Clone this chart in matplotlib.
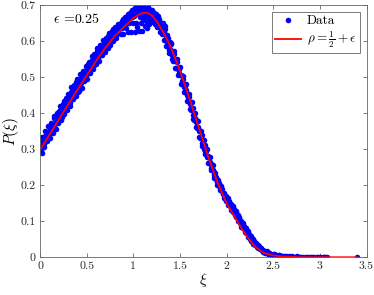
import matplotlib
matplotlib.use("Agg")
import matplotlib.pyplot as plt
import numpy as np

# Measured data, split by region of the curve
xi_rise = [0.004, 0.011, 0.017, 0.022, 0.030, 0.038, 0.045, 0.051, 0.060, 0.068,
           0.075, 0.083, 0.091, 0.099, 0.106, 0.114, 0.121, 0.129, 0.137, 0.146,
           0.153, 0.161, 0.169, 0.176, 0.184, 0.192, 0.201, 0.208, 0.216, 0.223,
           0.231, 0.239, 0.247, 0.255, 0.262, 0.270, 0.278, 0.286, 0.294, 0.302,
           0.310, 0.317, 0.325, 0.333, 0.341, 0.349, 0.356, 0.364, 0.372, 0.380,
           0.388, 0.396, 0.404, 0.411, 0.419, 0.427, 0.435, 0.443, 0.451, 0.459,
           0.467, 0.475, 0.483, 0.491, 0.499, 0.507, 0.515, 0.523, 0.531, 0.539,
           0.547, 0.555, 0.563, 0.571, 0.579, 0.587, 0.595, 0.603, 0.611, 0.619,
           0.627, 0.635, 0.643, 0.651, 0.659, 0.667, 0.675, 0.683, 0.691, 0.699,
           0.707, 0.715, 0.723, 0.731, 0.739, 0.747, 0.755, 0.763, 0.771, 0.779,
           0.787, 0.795, 0.803, 0.811, 0.819, 0.827, 0.835, 0.843,
           0.007, 0.026, 0.042, 0.057, 0.073, 0.088, 0.104, 0.119, 0.135, 0.150,
           0.166, 0.181, 0.197, 0.212, 0.228, 0.243, 0.259, 0.274, 0.290, 0.305,
           0.321, 0.336, 0.352, 0.367, 0.383, 0.398, 0.414, 0.429, 0.445, 0.460,
           0.476, 0.491, 0.507, 0.522, 0.538, 0.553, 0.569, 0.584, 0.600, 0.615,
           0.631, 0.646, 0.662, 0.677, 0.693, 0.708, 0.724, 0.739, 0.755, 0.770,
           0.786, 0.801, 0.817, 0.832]
p_rise = [0.310, 0.299, 0.291, 0.323, 0.314, 0.326, 0.315, 0.338, 0.329, 0.338,
          0.327, 0.348, 0.343, 0.361, 0.345, 0.358, 0.354, 0.369, 0.352, 0.369,
          0.386, 0.370, 0.382, 0.379, 0.393, 0.377, 0.393, 0.405, 0.394, 0.406,
          0.390, 0.407, 0.418, 0.407, 0.435, 0.419, 0.428, 0.419, 0.440, 0.431,
          0.439, 0.428, 0.450, 0.460, 0.445, 0.457, 0.455, 0.468, 0.453, 0.468,
          0.486, 0.469, 0.480, 0.458, 0.481, 0.495, 0.483, 0.494, 0.507, 0.496,
          0.507, 0.494, 0.508, 0.521, 0.509, 0.520, 0.537, 0.521, 0.533, 0.522,
          0.534, 0.547, 0.535, 0.546, 0.533, 0.557, 0.551, 0.557, 0.572, 0.555,
          0.569, 0.564, 0.580, 0.561, 0.577, 0.586, 0.577, 0.597, 0.587, 0.595,
          0.584, 0.604, 0.598, 0.614, 0.599, 0.610, 0.595, 0.618, 0.613, 0.618,
          0.634, 0.614, 0.630, 0.624, 0.638, 0.619, 0.636, 0.646,
          0.293, 0.333, 0.306, 0.350, 0.323, 0.365, 0.330, 0.374, 0.346, 0.392,
          0.357, 0.401, 0.374, 0.419, 0.381, 0.425, 0.399, 0.443, 0.410, 0.454,
          0.421, 0.472, 0.440, 0.478, 0.448, 0.494, 0.462, 0.509, 0.471, 0.518,
          0.490, 0.532, 0.496, 0.542, 0.511, 0.558, 0.522, 0.565, 0.537, 0.580,
          0.545, 0.589, 0.562, 0.604, 0.570, 0.610, 0.582, 0.622, 0.590, 0.630,
          0.602, 0.641, 0.608, 0.648]

xi_peak = [0.851, 0.857, 0.863, 0.869, 0.875, 0.881, 0.887, 0.893, 0.899, 0.905,
           0.911, 0.917, 0.923, 0.929, 0.935, 0.941, 0.947, 0.953, 0.959, 0.965,
           0.971, 0.977, 0.983, 0.989, 0.995, 1.001, 1.007, 1.013, 1.019, 1.025,
           1.031, 1.037, 1.043, 1.049, 1.055, 1.061, 1.067, 1.073, 1.079, 1.085,
           1.091, 1.097, 1.103, 1.109, 1.115, 1.121, 1.127, 1.133, 1.139, 1.145,
           1.151, 1.157, 1.163, 1.169, 1.175, 1.181, 1.187, 1.193, 1.199, 1.205,
           1.211, 1.217, 1.223, 1.229, 1.235, 1.241, 1.247, 1.253, 1.259, 1.265,
           1.271, 1.277, 1.283, 1.289, 1.295,
           0.854, 0.866, 0.878, 0.890, 0.902, 0.914, 0.926, 0.938, 0.950, 0.962,
           0.974, 0.986, 0.998, 1.010, 1.022, 1.034, 1.046, 1.058, 1.070, 1.082,
           1.094, 1.106, 1.118, 1.130, 1.142, 1.154, 1.166, 1.178, 1.190, 1.202,
           1.214, 1.226, 1.238, 1.250, 1.262, 1.274, 1.286, 1.298]
p_peak = [0.633, 0.647, 0.620, 0.643, 0.657, 0.637, 0.651, 0.620, 0.660, 0.648,
          0.656, 0.638, 0.668, 0.651, 0.664, 0.625, 0.661, 0.672, 0.650, 0.670,
          0.682, 0.627, 0.668, 0.678, 0.651, 0.686, 0.669, 0.626, 0.680, 0.693,
          0.650, 0.680, 0.639, 0.691, 0.676, 0.630, 0.689, 0.668, 0.697, 0.650,
          0.684, 0.629, 0.691, 0.663, 0.696, 0.643, 0.682, 0.657, 0.689, 0.638,
          0.686, 0.666, 0.690, 0.648, 0.679, 0.666, 0.684, 0.654, 0.678, 0.661,
          0.682, 0.663, 0.673, 0.648, 0.664, 0.675, 0.650, 0.664, 0.640, 0.669,
          0.645, 0.651, 0.625, 0.651, 0.630,
          0.640, 0.652, 0.645, 0.662, 0.653, 0.668, 0.658, 0.675, 0.662, 0.680,
          0.667, 0.688, 0.672, 0.690, 0.676, 0.694, 0.682, 0.692, 0.680, 0.691,
          0.673, 0.684, 0.670, 0.692, 0.675, 0.694, 0.670, 0.688, 0.672, 0.686,
          0.668, 0.680, 0.655, 0.670, 0.652, 0.661, 0.640, 0.645]

xi_fall = [1.301, 1.309, 1.317, 1.325, 1.333, 1.341, 1.349, 1.357, 1.365, 1.373,
           1.381, 1.389, 1.397, 1.405, 1.413, 1.421, 1.429, 1.437, 1.445, 1.453,
           1.461, 1.469, 1.477, 1.485, 1.493, 1.501, 1.509, 1.517, 1.525, 1.533,
           1.541, 1.549, 1.557, 1.565, 1.573, 1.581, 1.589, 1.597, 1.605, 1.613,
           1.621, 1.629, 1.637, 1.645, 1.653, 1.661, 1.669, 1.677, 1.685, 1.693,
           1.701, 1.709, 1.717, 1.725, 1.733, 1.741, 1.749, 1.757, 1.765, 1.773,
           1.781, 1.789, 1.797, 1.805, 1.813, 1.821, 1.829, 1.837, 1.845, 1.853,
           1.861, 1.869, 1.877, 1.885, 1.893, 1.901, 1.909, 1.917, 1.925, 1.933,
           1.941, 1.949, 1.957, 1.965, 1.973, 1.981, 1.989, 1.997,
           1.305, 1.321, 1.337, 1.353, 1.369, 1.385, 1.401, 1.417, 1.433, 1.449,
           1.465, 1.481, 1.497, 1.513, 1.529, 1.545, 1.561, 1.577, 1.593, 1.609,
           1.625, 1.641, 1.657, 1.673, 1.689, 1.705, 1.721, 1.737, 1.753, 1.769,
           1.785, 1.801, 1.817, 1.833, 1.849, 1.865, 1.881, 1.897, 1.913, 1.929,
           1.945, 1.961, 1.977, 1.993]
p_fall = [0.646, 0.621, 0.648, 0.625, 0.605, 0.643, 0.616, 0.597, 0.618, 0.595,
          0.576, 0.597, 0.579, 0.592, 0.561, 0.569, 0.544, 0.564, 0.544, 0.545,
          0.526, 0.542, 0.524, 0.512, 0.524, 0.505, 0.506, 0.485, 0.491, 0.495,
          0.473, 0.475, 0.458, 0.466, 0.452, 0.435, 0.444, 0.445, 0.425, 0.428,
          0.409, 0.411, 0.415, 0.394, 0.381, 0.388, 0.377, 0.382, 0.360, 0.362,
          0.350, 0.353, 0.332, 0.335, 0.340, 0.317, 0.318, 0.301, 0.311, 0.295,
          0.294, 0.278, 0.279, 0.281, 0.263, 0.265, 0.249, 0.259, 0.244, 0.243,
          0.229, 0.237, 0.223, 0.223, 0.208, 0.213, 0.204, 0.207, 0.191, 0.196,
          0.186, 0.190, 0.179, 0.179, 0.165, 0.168, 0.169, 0.155,
          0.652, 0.650, 0.635, 0.587, 0.609, 0.567, 0.596, 0.550, 0.573, 0.525,
          0.552, 0.506, 0.529, 0.480, 0.504, 0.459, 0.482, 0.434, 0.454, 0.411,
          0.431, 0.384, 0.402, 0.361, 0.379, 0.334, 0.352, 0.310, 0.326, 0.286,
          0.301, 0.263, 0.278, 0.242, 0.256, 0.221, 0.234, 0.202, 0.215, 0.188,
          0.199, 0.177, 0.179, 0.160]

xi_tail = [2.006, 2.015, 2.024, 2.033, 2.042, 2.051, 2.060, 2.069, 2.078, 2.087,
           2.096, 2.105, 2.114, 2.123, 2.132, 2.141, 2.150, 2.159, 2.168, 2.177,
           2.186, 2.195, 2.204, 2.213, 2.222, 2.231, 2.240, 2.249, 2.258, 2.267,
           2.276, 2.285, 2.294, 2.303, 2.312, 2.321, 2.330, 2.339, 2.348, 2.357,
           2.366, 2.375, 2.384, 2.393, 2.402, 2.415, 2.428, 2.441, 2.454, 2.467,
           2.480, 2.493, 2.506, 2.520, 2.535, 2.550, 2.565, 2.580, 2.600, 2.620,
           2.640, 2.660, 2.685, 2.710, 2.735, 2.760, 2.790, 2.820, 2.850, 2.880,
           2.910, 2.940, 2.970, 3.000, 3.030, 3.060, 3.080, 3.400,
           2.010, 2.028, 2.046, 2.064, 2.082, 2.100, 2.118, 2.136, 2.154, 2.172,
           2.190, 2.208, 2.226, 2.244, 2.262, 2.280, 2.298, 2.316, 2.334, 2.352,
           2.370, 2.388, 2.406, 2.430, 2.455, 2.480, 2.505, 2.530, 2.560, 2.590,
           2.630, 2.670, 2.700, 2.750, 2.800, 2.860, 2.920, 2.980, 3.040]
p_tail = [0.155, 0.145, 0.152, 0.141, 0.142, 0.131, 0.139, 0.127, 0.127, 0.116,
          0.126, 0.113, 0.113, 0.101, 0.108, 0.096, 0.096, 0.084, 0.089, 0.080,
          0.084, 0.070, 0.073, 0.066, 0.069, 0.056, 0.059, 0.052, 0.055, 0.045,
          0.046, 0.038, 0.041, 0.034, 0.036, 0.029, 0.032, 0.027, 0.027, 0.022,
          0.024, 0.019, 0.020, 0.015, 0.016, 0.013, 0.014, 0.010, 0.011, 0.009,
          0.009, 0.006, 0.008, 0.005, 0.006, 0.004, 0.005, 0.003, 0.003, 0.002,
          0.003, 0.001, 0.002, 0.001, 0.002, 0.001, 0.001, 0.001, 0.000, 0.001,
          0.000, 0.001, 0.000, 0.000, 0.001, 0.000, 0.000, 0.000,
          0.164, 0.157, 0.149, 0.143, 0.134, 0.128, 0.118, 0.111, 0.102, 0.096,
          0.086, 0.080, 0.072, 0.065, 0.058, 0.051, 0.044, 0.039, 0.034, 0.030,
          0.025, 0.021, 0.018, 0.016, 0.013, 0.010, 0.009, 0.007, 0.006, 0.004,
          0.004, 0.003, 0.003, 0.003, 0.002, 0.002, 0.002, 0.001, 0.001]

# rho = 1/2 + eps curve
xi_fit = [0.0, 0.1, 0.2, 0.3, 0.4, 0.5, 0.6, 0.7, 0.8, 0.9, 1.0, 1.05, 1.1, 1.15,
          1.2, 1.25, 1.3, 1.35, 1.4, 1.5, 1.6, 1.7, 1.8, 1.9, 2.0, 2.1, 2.2, 2.3,
          2.4, 2.5, 2.6, 2.7, 2.8, 3.08, 3.4]
p_fit = [0.298, 0.340, 0.382, 0.424, 0.465, 0.505, 0.545, 0.582, 0.614, 0.640,
         0.664, 0.673, 0.679, 0.679, 0.672, 0.656, 0.634, 0.611, 0.585, 0.518,
         0.442, 0.362, 0.282, 0.210, 0.150, 0.106, 0.064, 0.030, 0.012, 0.005,
         0.002, 0.001, 0.000, 0.000, 0.000]

plt.rcParams['font.family'] = 'cmr10'
plt.rcParams['mathtext.fontset'] = 'cm'
plt.rcParams['axes.formatter.use_mathtext'] = True

fig = plt.figure(figsize=(3.74, 2.95), dpi=100)
ax = fig.add_axes([0.107, 0.128, 0.873, 0.854])

xi_all = np.concatenate([xi_rise, xi_peak, xi_fall, xi_tail])
p_all = np.concatenate([p_rise, p_peak, p_fall, p_tail])

ax.plot(xi_all, p_all, 'o', color=(0, 0, 1), ms=4.0, mew=0, label='Data')
ax.plot(xi_fit, p_fit, '-', color=(1, 0, 0), lw=1.3,
        label=r'$\rho=\frac{1}{2}+\epsilon$')

ax.set_xlim(0, 3.5)
ax.set_ylim(0, 0.7)
ax.set_xticks(np.arange(0, 3.51, 0.5))
ax.set_yticks(np.arange(0, 0.71, 0.1))
ax.set_xticklabels(['0', '0.5', '1', '1.5', '2', '2.5', '3', '3.5'])
ax.set_yticklabels(['0', '0.1', '0.2', '0.3', '0.4', '0.5', '0.6', '0.7'])

axis_col = '#666666'
for s in ax.spines.values():
    s.set_color(axis_col)
    s.set_linewidth(0.6)
ax.tick_params(direction='in', top=True, right=True, length=3, width=0.6,
               color=axis_col, labelsize=8.5, labelcolor='#262626', pad=3)

ax.set_xlabel(r'$\xi$', fontsize=11, labelpad=0)
ax.set_ylabel(r'$P(\xi)$', fontsize=11)
ax.yaxis.set_label_coords(-0.058, 0.5)

ax.text(0.14, 0.662, r'$\epsilon$ =0.25', fontsize=10, va='center', ha='left')

leg = ax.legend(loc='upper right', fontsize=9.5, fancybox=False, framealpha=1,
                edgecolor=axis_col, borderaxespad=0.5, handlelength=2.0,
                handletextpad=0.4, borderpad=0.25, labelspacing=0.15)
leg.get_frame().set_linewidth(0.6)

fig.savefig('out.png', dpi=100)
